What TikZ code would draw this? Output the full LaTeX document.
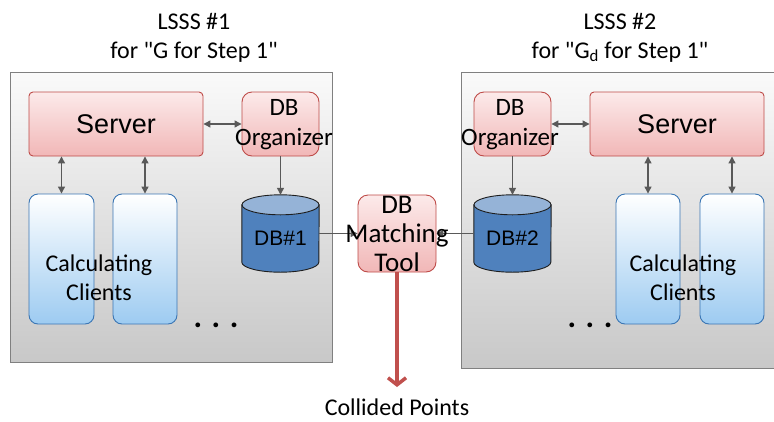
\documentclass[tikz,border=0pt]{standalone}
\usepackage{fontspec}
\setmainfont{Carlito}[Ligatures=TeXOff]
\newfontfamily\arialfont{Liberation Sans}
\usetikzlibrary{arrows.meta}

\definecolor{panelTop}{HTML}{FAFAFA}
\definecolor{panelBot}{HTML}{C8C8C8}
\definecolor{panelLine}{HTML}{808080}
\definecolor{redTop}{HTML}{FCEAEA}
\definecolor{redBot}{HTML}{F1B7B7}
\definecolor{redLine}{HTML}{BE4B48}
\definecolor{blueTop}{HTML}{FFFFFF}
\definecolor{blueBot}{HTML}{9DCBF1}
\definecolor{blueLine}{HTML}{3B76B4}
\definecolor{dbBody}{HTML}{4F81BD}
\definecolor{dbTop}{HTML}{95B3D7}
\definecolor{dbLine}{HTML}{1E1E1E}
\definecolor{linkGray}{HTML}{595959}
\definecolor{outRed}{HTML}{C0504D}

\tikzset{
  panel/.style={draw=panelLine, line width=1pt, top color=panelTop, bottom color=panelBot,
    rectangle, inner sep=0pt},
  redbox/.style={draw=redLine, line width=0.9pt, top color=redTop, bottom color=redBot,
    rectangle, inner sep=0pt},
  clientbox/.style={draw=blueLine, line width=0.9pt, top color=blueTop, bottom color=blueBot,
    rectangle, rounded corners=9pt, inner sep=0pt, minimum width=65pt, minimum height=130pt},
  dbslot/.style={rectangle, inner sep=0pt, minimum width=77pt, minimum height=77pt},
  link/.style={draw=linkGray, line width=1.2pt},
  lbl/.style={inner sep=0pt, align=center, font=\fontsize{24}{29}\selectfont},
  dotrow/.style={inner sep=0pt, anchor=base, font=\fontsize{32}{32}\selectfont\bfseries},
}
\newcommand\drawdb[1]{%
  \filldraw[fill=dbBody, draw=dbLine, line width=0.9pt]
    ([yshift=-10pt]#1.north west) -- ([yshift=10pt]#1.south west)
    arc[start angle=180, end angle=360, x radius=38.5pt, y radius=10pt]
    -- ([yshift=-10pt]#1.north east) -- cycle;
  \filldraw[fill=dbTop, draw=dbLine, line width=0.9pt]
    ([yshift=-10pt]#1.north) ellipse[x radius=38.5pt, y radius=10pt];
}

\begin{document}
\begin{tikzpicture}[x=1pt, y=-1pt]
\useasboundingbox (0,0) rectangle (774,421);

% two system panels
\node[panel, minimum width=322pt, minimum height=290pt] (p1) at (171,217) {};
\node[panel, minimum width=315pt, minimum height=296pt] (p2) at (618.5,220) {};

% titles
\node[lbl] (t1) at (194,37.5) {LSSS \#1\\for "G for Step 1"};
\node[lbl] (t2) at (620,37.5) {LSSS \#2\\for "G\textsubscript{d} for Step 1"};

% left system
\node[redbox, rounded corners=4pt, minimum width=174pt, minimum height=64pt] (srv1) at (116,124) {};
\node[font=\arialfont\fontsize{27}{27}\selectfont, inner sep=0pt] (srv1t) at (116,124) {Server};
\node[redbox, rounded corners=10pt, minimum width=77pt, minimum height=64pt] (org1) at (280.5,124) {};
\node[lbl, font=\fontsize{25}{30}\selectfont] (org1t) at (284,125) {DB\\Organizer};
\node[clientbox] (cl1a) at (61.5,259) {};
\node[clientbox, minimum width=64pt] (cl1b) at (145,259) {};
\node[lbl] (cl1t) at (99,277.5) {Calculating\\Clients};
\node[dbslot] (db1) at (280.5,233.5) {};
\drawdb{db1}
\node[font=\arialfont\fontsize{21}{21}\selectfont, inner sep=0pt] (db1t) at (280.5,238) {DB\#1};
\node[dotrow] (dots1) at (216,327) {. . .};

% right system
\node[redbox, rounded corners=10pt, minimum width=77pt, minimum height=64pt] (org2) at (512.5,124) {};
\node[lbl, font=\fontsize{25}{30}\selectfont] (org2t) at (510,125) {DB\\Organizer};
\node[redbox, rounded corners=4pt, minimum width=174pt, minimum height=64pt] (srv2) at (677,124) {};
\node[font=\arialfont\fontsize{27}{27}\selectfont, inner sep=0pt] (srv2t) at (677,124) {Server};
\node[clientbox, minimum width=64pt] (cl2a) at (648,259) {};
\node[clientbox, minimum width=64pt] (cl2b) at (732,259) {};
\node[lbl] (cl2t) at (683,277.5) {Calculating\\Clients};
\node[dbslot] (db2) at (512.5,233.5) {};
\drawdb{db2}
\node[font=\arialfont\fontsize{21}{21}\selectfont, inner sep=0pt] (db2t) at (512.5,238) {DB\#2};
\node[dotrow] (dots2) at (590,327) {. . .};

% matching tool between the systems
\node[redbox, rounded corners=10pt, minimum width=78pt, minimum height=77pt] (tool) at (397,233.5) {};

% links
\draw[link, {Triangle[length=7pt,width=7pt]}-{Triangle[length=7pt,width=7pt]}] (srv1.east) -- (org1.west);
\draw[link, {Triangle[length=7pt,width=7pt]}-{Triangle[length=7pt,width=7pt]}] (org2.east) -- (srv2.west);
\draw[link, {Triangle[length=7pt,width=7pt]}-{Triangle[length=7pt,width=7pt]}] (cl1a.north |- srv1.south) -- (cl1a.north);
\draw[link, {Triangle[length=7pt,width=7pt]}-{Triangle[length=7pt,width=7pt]}] (cl1b.north |- srv1.south) -- (cl1b.north);
\draw[link, {Triangle[length=7pt,width=7pt]}-{Triangle[length=7pt,width=7pt]}] (cl2a.north |- srv2.south) -- (cl2a.north);
\draw[link, {Triangle[length=7pt,width=7pt]}-{Triangle[length=7pt,width=7pt]}] (cl2b.north |- srv2.south) -- (cl2b.north);
\draw[link, -{Triangle[length=7pt,width=7pt]}] (org1.south) -- (db1.north);
\draw[link, -{Triangle[length=7pt,width=7pt]}] (org2.south) -- (db2.north);
\draw[link, -{Triangle[length=7pt,width=7pt]}] (db1.east) -- (tool.west);
\draw[link, -{Triangle[length=7pt,width=7pt]}] (db2.west) -- (tool.east);

\node[lbl, font=\fontsize{27}{29}\selectfont] (toolt) at (397,233.5) {DB\\Matching\\Tool};

% output
\node[lbl] (out) at (397,407) {Collided Points};
\coordinate (outend) at (397,387);
\draw[draw=outRed, line width=3.5pt, -{Straight Barb[length=7pt,width=18pt]}] (tool.south) -- (outend);
\end{tikzpicture}
\end{document}
